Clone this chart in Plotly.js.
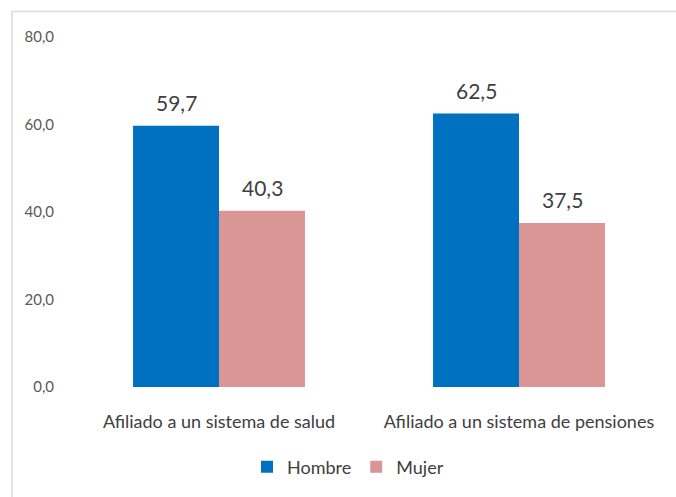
<!DOCTYPE html>
<html>
<head>
<meta charset="utf-8">
<script src="https://cdn.plot.ly/plotly-3.0.1.min.js"></script>
<style>
  html, body { margin: 0; padding: 0; background: #fff; }
  #chart { width: 676px; height: 497px; }
</style>
</head>
<body>
<div id="chart"></div>
<script>
const categories = ["Afiliado a un sistema de salud", "Afiliado a un sistema de pensiones"];
const seriesNames = ["Hombre", "Mujer"];
const hombre = [59.7, 62.5];
const mujer = [40.3, 37.5];
const yTicks = [0, 20, 40, 60, 80];

const FONT = "Lato, sans-serif";
const colors = ["#0070C0", "#D99694"];
const seriesValues = [hombre, mujer];

const traces = seriesValues.map((vals, i) => ({
  type: "bar",
  name: seriesNames[i],
  x: categories,
  y: vals,
  marker: { color: colors[i], line: { width: 0 } },
  hoverinfo: "skip"
}));

const annotations = [];
seriesValues.forEach((vals, i) => {
  vals.forEach((v, j) => {
    annotations.push({
      x: categories[j], y: v, xref: "x", yref: "y",
      text: v.toFixed(1).replace(".", ","),
      showarrow: false,
      xshift: i === 0 ? -43 : 43,
      yanchor: "bottom", yshift: 9,
      font: { family: FONT, size: 21, color: "#404040" }
    });
  });
});

const layout = {
  width: 676, height: 497,
  margin: { l: 69, r: 7, t: 37, b: 110 },
  paper_bgcolor: "#ffffff",
  plot_bgcolor: "#ffffff",
  separators: ",.",
  barmode: "group",
  bargap: 0.427,
  bargroupgap: 0,
  showlegend: true,
  legend: {
    orientation: "h",
    x: 0.465, xanchor: "center",
    y: -0.229, yanchor: "middle",
    font: { family: FONT, size: 18, color: "#404040" },
    itemwidth: 30,
    traceorder: "normal"
  },
  xaxis: {
    type: "category",
    showgrid: false, zeroline: false, showline: false,
    ticks: "",
    ticklabelstandoff: 22,
    tickfont: { family: FONT, size: 18, color: "#404040" }
  },
  yaxis: {
    range: [0, 80],
    tickvals: yTicks,
    tickformat: ".1f",
    showgrid: false, zeroline: false, showline: false,
    ticks: "",
    ticklabelstandoff: 14,
    tickfont: { family: FONT, size: 15, color: "#595959" }
  },
  annotations: annotations,
  shapes: [{
    type: "rect", xref: "paper", yref: "paper",
    x0: -0.095, x1: 1.05, y0: -0.4, y1: 1.0729,
    line: { color: "#D9D9D9", width: 1.5 },
    fillcolor: "rgba(0,0,0,0)",
    layer: "below"
  }]
};

Plotly.newPlot("chart", traces, layout, { displayModeBar: false, staticPlot: true });
</script>
</body>
</html>
